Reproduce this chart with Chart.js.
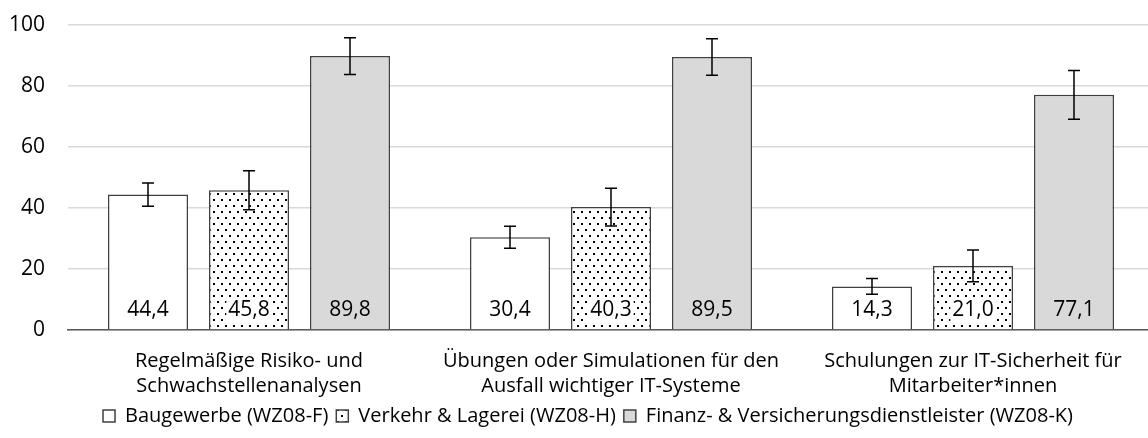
<!DOCTYPE html>
<html>
<head>
<meta charset="utf-8">
<script src="https://cdn.jsdelivr.net/npm/chart.js@4.4.1/dist/chart.umd.min.js"></script>
<style>
  html, body { margin: 0; padding: 0; background: #fff; overflow: hidden; }
  #wrap { width: 1148px; height: 438px; overflow: hidden; }
  #box { width: 1176px; height: 438px; }
</style>
</head>
<body>
<div id="wrap"><div id="box"><canvas id="myChart"></canvas></div></div>
<script>
// Data
const categories = [
  ['Regelmäßige Risiko- und', 'Schwachstellenanalysen'],
  ['Übungen oder Simulationen für den', 'Ausfall wichtiger IT-Systeme'],
  ['Schulungen zur IT-Sicherheit für', 'Mitarbeiter*innen']
];
const seriesNames = ['Baugewerbe (WZ08-F)', 'Verkehr & Lagerei (WZ08-H)', 'Finanz- & Versicherungsdienstleister (WZ08-K)'];
const baugewerbe = [44.4, 30.4, 14.3];
const verkehr = [45.8, 40.3, 21.0];
const finanz = [89.8, 89.5, 77.1];
// +/- error margins
const baugewerbeErr = [3.8, 3.6, 2.6];
const verkehrErr = [6.4, 6.2, 5.2];
const finanzErr = [6.0, 6.0, 8.0];
const yTicks = [0, 20, 40, 60, 80, 100];

const FONT = '"Open Sans", "Noto Sans", sans-serif';

// dotted fill like the office "5%" pattern
function makeDots() {
  const c = document.createElement('canvas');
  c.width = 8; c.height = 12;
  const g = c.getContext('2d');
  g.fillStyle = '#fff';
  g.fillRect(0, 0, 8, 12);
  g.fillStyle = '#000';
  g.fillRect(1, 1, 2, 2);
  g.fillRect(5, 7, 2, 2);
  return g.createPattern(c, 'repeat');
}
const dots = makeDots();

const errors = [baugewerbeErr, verkehrErr, finanzErr];

// error whiskers and value labels
const extras = {
  id: 'extras',
  afterLayout(chart) {
    // legend sits a bit right of the canvas centre in the original
    chart.legend.left += 11;
    chart.legend.right += 11;
  },
  afterDatasetsDraw(chart) {
    const ctx = chart.ctx;
    const yScale = chart.scales.y;
    const base = yScale.getPixelForValue(0);
    chart.data.datasets.forEach((ds, di) => {
      const meta = chart.getDatasetMeta(di);
      meta.data.forEach((bar, i) => {
        const v = ds.data[i];
        const e = errors[di][i];
        const yTop = yScale.getPixelForValue(v + e);
        const yBot = yScale.getPixelForValue(v - e);
        ctx.save();
        ctx.strokeStyle = '#000';
        ctx.lineWidth = 1.5;
        ctx.beginPath();
        ctx.moveTo(bar.x, yTop); ctx.lineTo(bar.x, yBot);
        ctx.moveTo(bar.x - 6, yTop); ctx.lineTo(bar.x + 6, yTop);
        ctx.moveTo(bar.x - 6, yBot); ctx.lineTo(bar.x + 6, yBot);
        ctx.stroke();

        const txt = v.toFixed(1).replace('.', ',');
        ctx.font = '21px ' + FONT;
        ctx.textAlign = 'center';
        ctx.textBaseline = 'middle';
        const w = ctx.measureText(txt).width;
        const ty = base - 21;
        if (di === 1) {
          ctx.fillStyle = '#fff';
          ctx.fillRect(bar.x - w / 2 - 2, ty - 12, w + 4, 24);
        }
        ctx.fillStyle = '#000';
        ctx.fillText(txt, bar.x, ty + 1);
        ctx.restore();
      });
    });
  }
};

const ctx = document.getElementById('myChart').getContext('2d');
const myChart = new Chart(ctx, {
  type: 'bar',
  data: {
    labels: categories,
    datasets: [
      { label: seriesNames[0], data: baugewerbe, backgroundColor: '#ffffff', borderColor: '#404040', borderWidth: 1.5 },
      { label: seriesNames[1], data: verkehr, backgroundColor: dots, borderColor: '#404040', borderWidth: 1.5 },
      { label: seriesNames[2], data: finanz, backgroundColor: '#d9d9d9', borderColor: '#404040', borderWidth: 1.5 }
    ]
  },
  options: {
    responsive: true,
    maintainAspectRatio: false,
    animation: false,
    categoryPercentage: 0.837,
    barPercentage: 0.792,
    layout: { padding: { top: 25, left: 0, right: 22, bottom: 2 } },
    plugins: {
      legend: {
        position: 'bottom',
        labels: {
          boxWidth: 12, boxHeight: 12, padding: 8,
          color: '#000',
          font: { family: FONT, size: 20 }
        }
      },
      tooltip: { enabled: false }
    },
    scales: {
      x: {
        grid: { display: false },
        border: { display: true, color: '#595959', width: 1.5 },
        afterFit: (axis) => { axis.height -= 12; },
        ticks: { color: '#000', font: { family: FONT, size: 20, lineHeight: 1.25 }, padding: 11, maxRotation: 0 }
      },
      y: {
        min: 0, max: 100,
        afterBuildTicks: (axis) => { axis.ticks = yTicks.map(v => ({ value: v })); },
        afterFit: (axis) => { axis.width = 68; axis.paddingTop = 0; axis.paddingBottom = 0; },
        grid: { color: '#d9d9d9', lineWidth: 1.5, drawTicks: false },
        border: { display: false },
        ticks: { color: '#000', font: { family: FONT, size: 21 }, padding: 23 }
      }
    }
  },
  plugins: [extras]
});
</script>
</body>
</html>
